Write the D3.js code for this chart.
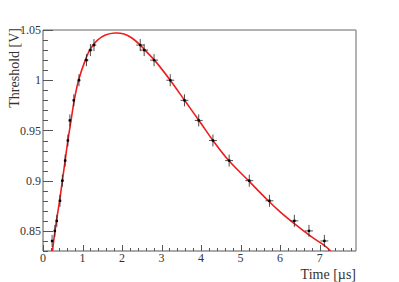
<!DOCTYPE html>
<html>
<head>
<meta charset="utf-8">
<script src="https://cdn.jsdelivr.net/npm/d3@7"></script>
<style>
  body { margin: 0; background: #fff; }
  svg { display: block; }
  text { font-family: "Liberation Serif", "Times New Roman", "DejaVu Serif", serif; }
</style>
</head>
<body>
<div id="grafico"></div>
<script>
// measured points: time [us], threshold [V], errors
const tempos = [0.23, 0.30, 0.35, 0.43, 0.49, 0.56, 0.63, 0.68, 0.78, 0.91, 1.10, 1.20, 1.29,
                2.46, 2.56, 2.81, 3.22, 3.58, 3.94, 4.30, 4.71, 5.22, 5.73, 6.36, 6.73, 7.12];
const limiares = [0.84, 0.85, 0.86, 0.88, 0.90, 0.92, 0.94, 0.96, 0.98, 1.00, 1.02, 1.03, 1.035,
                  1.035, 1.03, 1.02, 1.00, 0.98, 0.96, 0.94, 0.92, 0.90, 0.88, 0.86, 0.85, 0.84];
const errosTempo = [0.03, 0.03, 0.03, 0.03, 0.03, 0.03, 0.03, 0.03, 0.03, 0.04, 0.05, 0.05, 0.06,
                    0.1, 0.1, 0.1, 0.1, 0.1, 0.1, 0.1, 0.1, 0.1, 0.1, 0.1, 0.1, 0.1];
const errosLimiar = [0.006, 0.006, 0.006, 0.006, 0.006, 0.006, 0.006, 0.006, 0.006, 0.006, 0.006, 0.006, 0.006,
                     0.006, 0.006, 0.006, 0.006, 0.006, 0.006, 0.006, 0.006, 0.006, 0.006, 0.006, 0.006, 0.006];

// fitted curve
const curvaT = [0.24, 0.27, 0.34, 0.42, 0.49, 0.56, 0.63, 0.71, 0.79, 0.90, 1.07, 1.18, 1.27, 1.38, 1.58, 1.82,
                2.05, 2.25, 2.46, 2.58, 2.82, 3.22, 3.60, 4.00, 4.30, 4.70, 5.20, 5.70, 6.00, 6.40, 6.80, 7.10, 7.28];
const curvaV = [0.83, 0.84, 0.86, 0.88, 0.90, 0.92, 0.94, 0.96, 0.98, 1.00, 1.02, 1.03, 1.035, 1.04, 1.045, 1.047,
                1.046, 1.042, 1.035, 1.03, 1.02, 1.00, 0.979, 0.957, 0.94, 0.92, 0.90, 0.88, 0.869, 0.856, 0.844, 0.836, 0.83];

const ticksX = [0, 1, 2, 3, 4, 5, 6, 7];
const ticksY = [0.85, 0.9, 0.95, 1, 1.05];

const largura = 399, altura = 282;
const margem = { top: 30, right: 43, bottom: 31, left: 43 };

const svg = d3.select("#grafico").append("svg")
    .attr("width", largura)
    .attr("height", altura);

const x = d3.scaleLinear().domain([0, 7.92]).range([margem.left, largura - margem.right]);
const y = d3.scaleLinear().domain([0.83, 1.05]).range([altura - margem.bottom, margem.top]);

const x0 = x.range()[0], x1 = x.range()[1];
const y0 = y.range()[0], y1 = y.range()[1];

// frame
svg.append("line").attr("x1", x0).attr("x2", x1).attr("y1", y1).attr("y2", y1)
    .style("stroke", "#666").style("stroke-width", 1);
svg.append("line").attr("x1", x1).attr("x2", x1).attr("y1", y1).attr("y2", y0)
    .style("stroke", "#999").style("stroke-width", 1.5);

// minor ticks
const menoresX = d3.range(0, 79).map(i => i * 0.2).filter(v => v <= 7.92 && Math.abs(v - Math.round(v)) > 1e-6);
const menoresY = d3.range(83, 106).map(i => i / 100).filter(v => Math.abs(v * 20 - Math.round(v * 20)) > 1e-6);

const eixos = svg.append("g").style("stroke", "#555").style("stroke-width", 1);

eixos.selectAll(".mx").data(menoresX).enter().append("line")
    .attr("x1", d => Math.round(x(d)) + 0.5).attr("x2", d => Math.round(x(d)) + 0.5)
    .attr("y1", y0).attr("y2", y0 - 3);
eixos.selectAll(".Mx").data(ticksX).enter().append("line")
    .attr("x1", d => Math.round(x(d)) + 0.5).attr("x2", d => Math.round(x(d)) + 0.5)
    .attr("y1", y0).attr("y2", y0 - 6);
eixos.selectAll(".my").data(menoresY).enter().append("line")
    .attr("x1", x0).attr("x2", x0 + 5)
    .attr("y1", d => Math.round(y(d)) + 0.5).attr("y2", d => Math.round(y(d)) + 0.5);
eixos.selectAll(".My").data(ticksY).enter().append("line")
    .attr("x1", x0).attr("x2", x0 + 10)
    .attr("y1", d => Math.round(y(d)) + 0.5).attr("y2", d => Math.round(y(d)) + 0.5);

eixos.append("line").attr("x1", x0).attr("x2", x1).attr("y1", y0).attr("y2", y0);
eixos.append("line").attr("x1", x0).attr("x2", x0).attr("y1", y0).attr("y2", y1);

// tick labels
svg.selectAll(".lx").data(ticksX).enter().append("text")
    .attr("x", d => x(d)).attr("y", y0 + 11)
    .attr("text-anchor", "middle")
    .style("font-size", "12px").style("fill", "#333")
    .text(d => d);
svg.selectAll(".ly").data(ticksY).enter().append("text")
    .attr("x", x0 - 2).attr("y", d => y(d)).attr("dy", "0.35em")
    .attr("text-anchor", "end")
    .style("font-size", "12px").style("fill", "#333")
    .text(d => d);

// axis titles
svg.append("text")
    .attr("transform", `translate(19, ${y1 - 2}) rotate(-90)`)
    .attr("text-anchor", "end")
    .style("font-size", "14px").style("fill", "#333")
    .text("Threshold [V]");
svg.append("text")
    .attr("x", x1).attr("y", 279)
    .attr("text-anchor", "end")
    .style("font-size", "14px").style("fill", "#333")
    .text("Time [\u00b5s]");

// fit curve
svg.append("clipPath").attr("id", "recorte").append("rect")
    .attr("x", x0).attr("y", y1).attr("width", x1 - x0).attr("height", y0 - y1);

const curva = curvaT.map((t, i) => ({ t, v: curvaV[i] }));
const linha = d3.line().x(d => x(d.t)).y(d => y(d.v)).curve(d3.curveCatmullRom);
svg.append("path").datum(curva)
    .attr("clip-path", "url(#recorte)")
    .attr("d", linha)
    .style("fill", "none").style("stroke", "#ee1c1c").style("stroke-width", 1.6);

// points with error bars
const pontos = tempos.map((t, i) => ({ t, v: limiares[i], et: errosTempo[i], ev: errosLimiar[i] }));
const grupo = svg.append("g").style("stroke", "#222").style("stroke-width", 0.8);
grupo.selectAll(".eh").data(pontos).enter().append("line")
    .attr("x1", d => x(d.t - d.et)).attr("x2", d => x(d.t + d.et))
    .attr("y1", d => y(d.v)).attr("y2", d => y(d.v));
grupo.selectAll(".ev").data(pontos).enter().append("line")
    .attr("x1", d => x(d.t)).attr("x2", d => x(d.t))
    .attr("y1", d => y(d.v - d.ev)).attr("y2", d => y(d.v + d.ev));
svg.selectAll(".pt").data(pontos).enter().append("rect")
    .attr("x", d => x(d.t) - 1.2).attr("y", d => y(d.v) - 1.2)
    .attr("width", 2.4).attr("height", 2.4)
    .style("fill", "#000");
</script>
</body>
</html>
